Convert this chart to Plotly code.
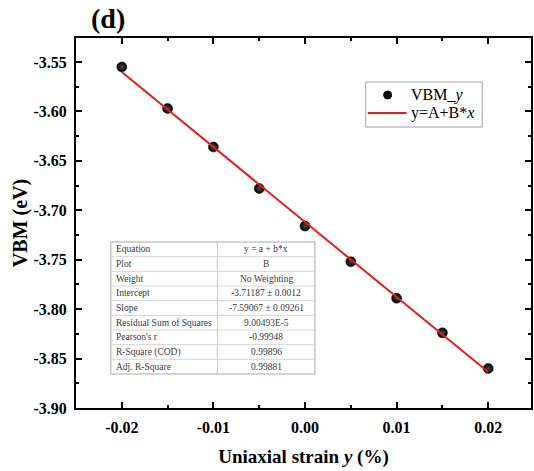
import plotly.graph_objects as go

strain = [-0.02, -0.015, -0.01, -0.005, 0.0, 0.005, 0.01, 0.015, 0.02]
vbm = [-3.555, -3.597, -3.636, -3.678, -3.716, -3.752, -3.789, -3.824, -3.860]
fit_A = -3.71187
fit_B = -7.59067
fit_x = [-0.02, 0.02]
fit_y = [fit_A + fit_B * v for v in fit_x]

table_labels = ["Equation", "Plot", "Weight", "Intercept", "Slope",
                "Residual Sum of Squares", "Pearson's r", "R-Square (COD)", "Adj. R-Square"]
table_values = ["y = a + b*x", "B", "No Weighting", "-3.71187 ± 0.0012",
                "-7.59067 ± 0.09261", "9.00493E-5", "-0.99948", "0.99896", "0.99881"]

legend_labels = ["VBM_<i>y</i>", "y=A+B*<i>x</i>"]

x_ticks = [-0.02, -0.01, 0.0, 0.01, 0.02]
x_tick_text = ["-0.02", "-0.01", "0.00", "0.01", "0.02"]
y_ticks = [-3.55, -3.60, -3.65, -3.70, -3.75, -3.80, -3.85, -3.90]
y_tick_text = ["-3.55", "-3.60", "-3.65", "-3.70", "-3.75", "-3.80", "-3.85", "-3.90"]

SERIF = "Liberation Serif, Times New Roman, serif"
RED = "#e0201c"
W, H = 534, 471
ML, MR, MT, MB = 76, 1, 38, 63
PW, PH = W - ML - MR, H - MT - MB


def px2x(px):
    return (px - ML) / PW


def px2y(py):
    return (H - MB - py) / PH


fig = go.Figure()
fig.add_trace(go.Scatter(
    x=strain, y=vbm, mode="markers", name=legend_labels[0], showlegend=False,
    marker=dict(color="black", size=10, line=dict(color="black", width=0.5),
                gradient=dict(type="radial", color="#4a4a4a")),
))
fig.add_trace(go.Scatter(
    x=fit_x, y=fit_y, mode="lines", name=legend_labels[1], showlegend=False,
    line=dict(color=RED, width=2),
))

shapes = []
annotations = []

# statistics table drawn with shapes and annotations
tx0, tx1, tsplit = 111, 316, 218
ty0, ty1 = 242, 374
nrows = len(table_labels)
rh = (ty1 - ty0) / nrows
shapes.append(dict(type="rect", xref="paper", yref="paper",
                   x0=px2x(tx0), x1=px2x(tx1), y0=px2y(ty1), y1=px2y(ty0),
                   line=dict(color="#a8a8a8", width=1), fillcolor="white", layer="above"))
shapes.append(dict(type="line", xref="paper", yref="paper",
                   x0=px2x(tsplit), x1=px2x(tsplit), y0=px2y(ty1), y1=px2y(ty0),
                   line=dict(color="#c8c8c8", width=1), layer="above"))
for i in range(nrows):
    if i > 0:
        shapes.append(dict(type="line", xref="paper", yref="paper",
                           x0=px2x(tx0), x1=px2x(tx1), y0=px2y(ty0 + i * rh), y1=px2y(ty0 + i * rh),
                           line=dict(color="#d6d6d6", width=1), layer="above"))
    yc = px2y(ty0 + (i + 0.5) * rh)
    annotations.append(dict(text=table_labels[i], xref="paper", yref="paper",
                            x=px2x(tx0 + 3), y=yc, xanchor="left", yanchor="middle",
                            showarrow=False, font=dict(family=SERIF, size=9.5, color="#3a3a3a")))
    annotations.append(dict(text=table_values[i], xref="paper", yref="paper",
                            x=px2x((tsplit + tx1) / 2), y=yc, xanchor="center", yanchor="middle",
                            showarrow=False, font=dict(family=SERIF, size=9.5, color="#3a3a3a")))

# legend drawn manually
lx0, lx1, ly0, ly1 = 367, 484, 82, 127
row1, row2 = 95, 113
shapes.append(dict(type="rect", xref="paper", yref="paper",
                   x0=px2x(lx0), x1=px2x(lx1), y0=px2y(ly1), y1=px2y(ly0),
                   line=dict(color="#a0a0a0", width=1), fillcolor="white", layer="above"))
shapes.append(dict(type="circle", xref="paper", yref="paper",
                   x0=px2x(385), x1=px2x(393), y0=px2y(row1 + 4), y1=px2y(row1 - 4),
                   line=dict(color="black", width=1), fillcolor="black", layer="above"))
shapes.append(dict(type="line", xref="paper", yref="paper",
                   x0=px2x(369), x1=px2x(408), y0=px2y(row2), y1=px2y(row2),
                   line=dict(color=RED, width=2), layer="above"))
for lab, ry in zip(legend_labels, [row1, row2]):
    annotations.append(dict(text=lab, xref="paper", yref="paper",
                            x=px2x(410), y=px2y(ry), xanchor="left", yanchor="middle",
                            showarrow=False, font=dict(family=SERIF, size=16, color="black")))

annotations.append(dict(text="<b>(d)</b>", xref="paper", yref="paper", x=px2x(89), y=px2y(36),
                        xanchor="left", yanchor="bottom", showarrow=False,
                        font=dict(family=SERIF, size=28, color="black")))

axis_common = dict(
    showline=True, linecolor="black", linewidth=2, mirror="ticks",
    ticks="inside", ticklen=6, tickwidth=2, tickcolor="black",
    showgrid=False, zeroline=False, ticklabelstandoff=4,
    tickfont=dict(family=SERIF, size=16, color="black", weight="bold"),
)

fig.update_layout(
    width=W, height=H,
    margin=dict(l=ML, r=MR, t=MT, b=MB),
    paper_bgcolor="white", plot_bgcolor="white",
    showlegend=False,
    xaxis=dict(range=[-0.025, 0.02467], tickvals=x_ticks, ticktext=x_tick_text,
               minor=dict(ticks="inside", ticklen=3, tickwidth=1.5, tickcolor="black", dtick=0.005),
               title=dict(text="Uniaxial strain <i>y</i> (%)",
                          font=dict(family=SERIF, size=19, color="black", weight="bold"), standoff=14),
               **axis_common),
    yaxis=dict(range=[-3.90, -3.5257], tickvals=y_ticks, ticktext=y_tick_text,
               minor=dict(ticks="inside", ticklen=3, tickwidth=1.5, tickcolor="black", dtick=0.025),
               title=dict(text="VBM (eV)",
                          font=dict(family=SERIF, size=20, color="black", weight="bold"), standoff=0),
               **axis_common),
    shapes=shapes,
    annotations=annotations,
)

fig.write_html("out.html")
